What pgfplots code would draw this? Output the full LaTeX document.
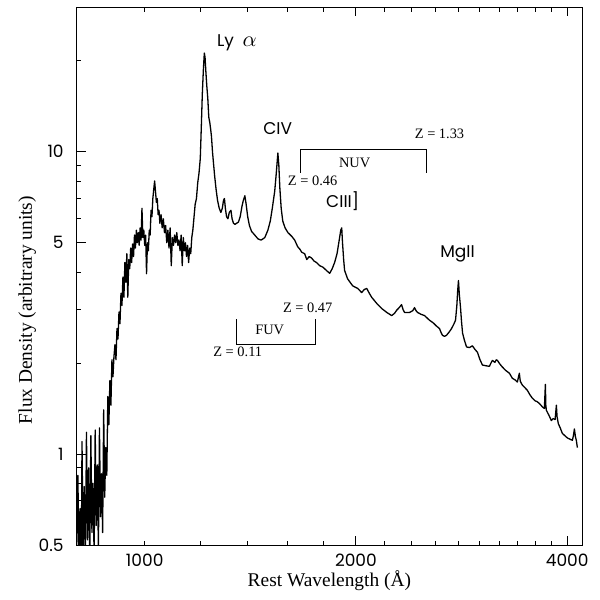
\documentclass[border=0pt]{standalone}
\usepackage{fontspec}
\setmainfont{Liberation Serif}
\newfontfamily\gothic{Poppins}
\usepackage{pgfplots}
\pgfplotsset{compat=1.18}

% composite quasar spectrum (rest wavelength, flux)
\pgfplotstableread{
lam f
800 0.48
803 0.85
806 0.45
809 0.66
812 0.40
814 1.10
817 0.47
820 0.78
823 0.42
826 1.18
829 0.52
832 0.90
835 0.44
838 1.15
841 0.55
844 0.80
847 0.46
850 1.20
853 0.58
856 0.92
859 0.48
862 1.22
865 0.62
868 0.86
871 0.55
874 1.40
877 0.72
880 1.05
883 0.85
886 1.55
889 1.25
892 1.75
895 1.45
898 2.05
901 1.80
904 2.10
907 2.30
910 2.05
913 2.60
916 2.40
919 2.95
922 2.70
925 3.40
928 3.10
931 3.85
934 3.30
937 4.30
940 3.70
943 4.60
946 3.30
949 4.40
952 4.10
955 4.80
958 4.30
961 4.95
964 4.50
967 5.30
970 4.80
973 5.50
976 5.00
979 5.40
982 4.90
985 5.60
988 5.10
991 6.50
994 5.20
997 5.50
1000 4.90
1003 5.30
1006 3.95
1009 5.00
1012 4.70
1015 5.50
1018 5.30
1021 6.40
1024 6.10
1027 7.00
1030 7.50
1033 8.00
1036 7.40
1039 6.80
1042 7.00
1045 6.20
1048 6.40
1051 5.80
1055 6.20
1059 5.60
1063 6.00
1067 5.40
1071 5.70
1075 5.00
1079 5.50
1083 4.80
1087 5.60
1091 4.20
1095 5.20
1099 4.90
1103 5.30
1107 5.00
1111 5.40
1115 4.90
1119 5.10
1123 4.70
1127 5.30
1131 4.20
1135 5.20
1139 4.70
1143 5.00
1147 4.50
1151 4.90
1155 4.30
1159 4.80
1163 4.60
1167 5.20
1171 5.50
1175 6.00
1180 6.70
1185 7.00
1190 7.90
1195 8.50
1200 9.50
1204 12.0
1208 15.5
1212 18.5
1216 21.2
1219 20.5
1222 18.5
1226 16.5
1230 15.0
1234 13.0
1238 12.5
1242 11.8
1245 11.2
1249 10.0
1253 9.2
1258 8.3
1264 7.5
1270 6.9
1277 6.5
1284 6.3
1290 6.5
1295 6.9
1299 7.0
1303 6.5
1308 6.1
1314 6.0
1320 6.3
1327 6.4
1332 6.0
1338 5.8
1345 5.75
1352 5.8
1360 5.85
1368 6.1
1376 6.6
1382 6.9
1389 7.15
1395 6.7
1402 6.1
1410 5.7
1420 5.45
1435 5.3
1450 5.15
1465 5.1
1483 5.2
1498 5.5
1510 5.9
1520 6.5
1532 7.4
1540 8.5
1548 9.9
1553 9.0
1558 7.6
1565 6.5
1573 5.9
1585 5.6
1600 5.4
1620 5.25
1636 5.1
1652 4.85
1665 4.75
1674 4.65
1690 4.6
1702 4.4
1716 4.5
1729 4.45
1743 4.35
1757 4.3
1775 4.2
1795 4.15
1815 4.05
1835 3.96
1850 4.1
1865 4.3
1880 4.6
1896 5.2
1903 5.5
1909 5.6
1914 5.0
1921 4.4
1927 4.05
1946 3.8
1979 3.6
2012 3.53
2038 3.42
2055 3.5
2072 3.53
2090 3.4
2106 3.3
2141 3.15
2176 3.03
2213 2.94
2249 2.87
2270 2.92
2286 2.99
2305 3.05
2323 3.12
2335 3.0
2346 2.94
2385 2.94
2410 2.98
2424 3.05
2436 2.98
2448 2.94
2475 2.9
2505 2.87
2546 2.77
2575 2.72
2605 2.65
2631 2.60
2645 2.52
2657 2.47
2675 2.45
2692 2.47
2715 2.53
2737 2.60
2760 2.70
2773 2.77
2785 3.1
2793 3.48
2800 3.75
2807 3.4
2819 3.05
2828 2.75
2838 2.51
2855 2.38
2875 2.26
2903 2.25
2931 2.28
2955 2.22
2980 2.17
3005 2.05
3029 1.97
3060 1.96
3099 1.95
3115 2.0
3130 2.04
3155 2.01
3170 2.05
3182 2.04
3210 1.98
3234 1.94
3270 1.89
3310 1.85
3342 1.78
3370 1.76
3397 1.73
3410 1.80
3419 1.85
3430 1.74
3453 1.69
3480 1.66
3510 1.625
3540 1.57
3568 1.53
3600 1.50
3625 1.49
3651 1.47
3690 1.43
3712 1.415
3718 1.55
3724 1.70
3730 1.45
3736 1.396
3770 1.34
3798 1.29
3820 1.31
3845 1.30
3861 1.45
3870 1.33
3886 1.26
3910 1.22
3938 1.17
3970 1.15
4003 1.13
4035 1.12
4069 1.11
4083 1.15
4096 1.21
4110 1.14
4122 1.11
4136 1.05
}\spectrum

\begin{document}
\begin{tikzpicture}
\begin{axis}[
    at={(0,0)}, anchor=south west,
    scale only axis,
    width=252.65pt, height=268.75pt,
    xmode=log, ymode=log,
    xmin=800, xmax=4200,
    ymin=0.5, ymax=30,
    xtick={2000,4000}, xticklabels={2000,4000},
    extra x ticks={1000}, extra x tick labels={1000},
    extra x tick style={major tick length=2.25pt},
    minor xtick={1200,1400,1600,1800,2200,2400,2600,2800,3000,3200,3400,3600,3800},
    ytick={0.5,1,5,10}, yticklabels={0.5,1,5,10},
    minor ytick={0.6,0.7,0.8,0.9,2,3,4,6,7,8,9,20},
    xtick pos=both, ytick pos=left,
    major tick length=4.5pt, minor tick length=2.25pt,
    tick style={black, line width=0.5pt},
    axis line style={black, line width=0.5pt},
    ticklabel style={font=\gothic\fontsize{8.5}{10}\selectfont},
    yticklabel style={xshift=-3pt},
    xticklabel style={yshift=-1pt},
    xlabel={Rest Wavelength (Å)},
    ylabel={Flux Density (arbitrary units)},
    label style={font=\fontsize{9.7}{11}\selectfont},
    xlabel style={at={(axis description cs:0.5,-0.066)}, anchor=center},
    ylabel style={at={(axis description cs:-0.098,0.437)}, anchor=center},
]
\addplot[black, line width=0.65pt, line join=round] table[x=lam, y=f] {\spectrum};

% NUV and FUV band brackets
\addplot[black, line width=0.6pt] coordinates {(1667,8.52) (1667,10.2) (2522,10.2) (2522,8.52)};
\addplot[black, line width=0.6pt] coordinates {(1352,2.79) (1352,2.30) (1753,2.30) (1753,2.79)};

\node[font=\gothic\fontsize{8.5}{10}\selectfont] at (axis cs:1353,22.9) {Ly\hspace{0.5em}{\fontsize{11}{12}\selectfont$\alpha$}};
\node[font=\gothic\fontsize{8.5}{10}\selectfont] at (axis cs:1547,11.9) {CIV};
\node[font=\gothic\fontsize{8.5}{10}\selectfont] at (axis cs:1915,6.89) {CIII]};
\node[font=\gothic\fontsize{8.5}{10}\selectfont] at (axis cs:2791,4.60) {MgII};

\node[font=\fontsize{7.2}{8}\selectfont] at (axis cs:2631,11.46) {Z = 1.33};
\node[font=\fontsize{7.2}{8}\selectfont] at (axis cs:1992,9.19) {NUV};
\node[font=\fontsize{7.2}{8}\selectfont] at (axis cs:1735,8.02) {Z = 0.46};
\node[font=\fontsize{7.2}{8}\selectfont] at (axis cs:1507,2.58) {FUV};
\node[font=\fontsize{7.2}{8}\selectfont] at (axis cs:1707,3.05) {Z = 0.47};
\node[font=\fontsize{7.2}{8}\selectfont] at (axis cs:1357,2.17) {Z = 0.11};
\end{axis}
\pgfresetboundingbox
\path[use as bounding box] (-38.35pt,-27.5pt) rectangle (261.65pt,272.5pt);
\end{tikzpicture}
\end{document}
